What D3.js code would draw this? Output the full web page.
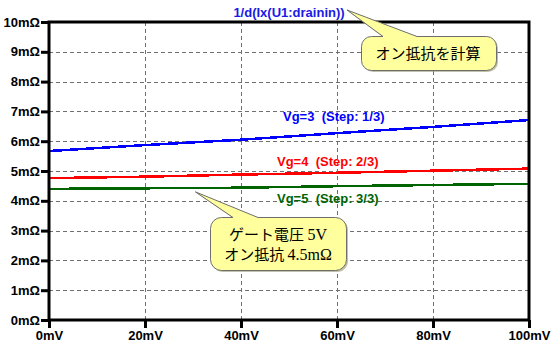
<!DOCTYPE html>
<html>
<head>
<meta charset="utf-8">
<script src="https://cdn.jsdelivr.net/npm/d3@7/dist/d3.min.js"></script>
<style>
  html, body { margin: 0; padding: 0; background: #fff; }
  svg { display: block; }
  .tick-label { font-family: Arial, "Liberation Sans", sans-serif; font-weight: bold; font-size: 13px; fill: #000; }
  .series-label { font-family: Arial, "Liberation Sans", sans-serif; font-weight: bold; font-size: 13px; white-space: pre; }
  .note { font-family: "Noto Sans CJK JP", sans-serif; font-size: 15px; fill: #000; }
  .note .latin { font-family: "Liberation Serif", "DejaVu Serif", serif; font-size: 16px; }
</style>
</head>
<body>
<svg id="chart" width="553" height="347"></svg>
<script>
// Drain voltage sweep (mV) and on-resistance per gate-voltage step (mΩ)
const vds = [0, 20, 40, 60, 80, 100];
const ronVg3 = [5.67, 5.87, 6.05, 6.27, 6.48, 6.71];
const ronVg4 = [4.76, 4.81, 4.88, 4.94, 5.01, 5.08];
const ronVg5 = [4.40, 4.42, 4.44, 4.49, 4.53, 4.57];

const xTicks = [0, 20, 40, 60, 80, 100];
const yTicks = [0, 1, 2, 3, 4, 5, 6, 7, 8, 9, 10];

const seriesNames = ["Vg=3  (Step: 1/3)", "Vg=4  (Step: 2/3)", "Vg=5  (Step: 3/3)"];
const seriesColors = ["#0000ff", "#ff0000", "#006400"];
const traceTitle = "1/d(Ix(U1:drainin))";

const svg = d3.select("#chart");
const plotL = 49, plotR = 529, plotT = 22, plotB = 320;

const x = d3.scaleLinear().domain([0, 100]).range([plotL, plotR]);
const y = d3.scaleLinear().domain([0, 10]).range([plotB, plotT]);

// dashed grid
const grid = svg.append("g");
grid.selectAll("line.gx").data(xTicks.slice(1, -1)).join("line")
  .attr("x1", d => x(d) + 0.5).attr("x2", d => x(d) + 0.5)
  .attr("y1", plotT).attr("y2", plotB)
  .attr("stroke", "#707070").attr("stroke-width", 1)
  .attr("stroke-dasharray", "4,3");
grid.selectAll("line.gy").data(yTicks.slice(1, -1)).join("line")
  .attr("x1", plotL).attr("x2", plotR)
  .attr("y1", d => Math.round(y(d)) + 0.5).attr("y2", d => Math.round(y(d)) + 0.5)
  .attr("stroke", "#707070").attr("stroke-width", 1)
  .attr("stroke-dasharray", "4,3");

// axes
const xAxis = d3.axisBottom(x).tickValues(xTicks).tickSize(8).tickPadding(3)
  .tickFormat(d => d + "mV");
const yAxis = d3.axisLeft(y).tickValues(yTicks).tickSize(8).tickPadding(1)
  .tickFormat(d => d + "mΩ");

const gx = svg.append("g").attr("transform", `translate(0,${plotB})`).call(xAxis);
const gy = svg.append("g").attr("transform", `translate(${plotL},0)`).call(yAxis);
[gx, gy].forEach(g => {
  g.select(".domain").remove();
  g.selectAll(".tick line").attr("stroke", "#000").attr("stroke-width", 3);
  g.selectAll(".tick text").attr("class", "tick-label").attr("fill", "#000");
});

// traces
const line = d3.line().x((d, i) => x(vds[i])).y(d => y(d));
const series = [ronVg3, ronVg4, ronVg5];
svg.append("g").selectAll("path").data(series).join("path")
  .attr("d", d => line(d))
  .attr("fill", "none")
  .attr("stroke", (d, i) => seriesColors[i])
  .attr("stroke-width", 2.5)
  .attr("shape-rendering", "crispEdges");

// frame
svg.append("rect")
  .attr("x", plotL).attr("y", plotT)
  .attr("width", plotR - plotL).attr("height", plotB - plotT)
  .attr("fill", "none").attr("stroke", "#000").attr("stroke-width", 3);

// step labels
const labelPos = [[283, 121], [277, 166], [277, 203]];
svg.append("g").selectAll("text").data(seriesNames).join("text")
  .attr("class", "series-label")
  .attr("x", (d, i) => labelPos[i][0])
  .attr("y", (d, i) => labelPos[i][1])
  .attr("fill", (d, i) => seriesColors[i])
  .text(d => d);

// trace expression
svg.append("text")
  .attr("class", "series-label")
  .attr("x", (plotL + plotR) / 2).attr("y", 17)
  .attr("text-anchor", "middle")
  .attr("fill", "#1a1ae6")
  .text(traceTitle);

// speech-bubble callout: rounded box with a pointer from the top edge
function callout(bx, by, bw, bh, r, b1, b2, tip) {
  const p = d3.path();
  p.moveTo(bx + r, by);
  p.lineTo(b1, by);
  p.lineTo(tip[0], tip[1]);
  p.lineTo(b2, by);
  p.lineTo(bx + bw - r, by);
  p.arcTo(bx + bw, by, bx + bw, by + r, r);
  p.lineTo(bx + bw, by + bh - r);
  p.arcTo(bx + bw, by + bh, bx + bw - r, by + bh, r);
  p.lineTo(bx + r, by + bh);
  p.arcTo(bx, by + bh, bx, by + bh - r, r);
  p.lineTo(bx, by + r);
  p.arcTo(bx, by, bx + r, by, r);
  p.closePath();
  const g = svg.append("g");
  g.append("path").attr("d", p.toString())
    .attr("transform", "translate(1.5,1.5)")
    .attr("fill", "#9a9a70").attr("opacity", 0.6);
  g.append("path").attr("d", p.toString())
    .attr("fill", "#ffff9e").attr("stroke", "#6e6e6e").attr("stroke-width", 1);
  return g;
}

// note at the trace expression
const n1 = callout(361.5, 36.5, 135, 34, 10, 383, 417, [347, 10]);
n1.append("text").attr("class", "note")
  .attr("x", 428).attr("y", 59)
  .attr("text-anchor", "middle")
  .text("オン抵抗を計算");

// note on the Vg=5 trace
const n2 = callout(210.5, 217.5, 136, 53, 11, 233, 258, [x(30.5), y(4.3)]);
const t1 = n2.append("text").attr("class", "note").attr("x", 278).attr("y", 240).attr("text-anchor", "middle");
t1.append("tspan").text("ゲート電圧 ");
t1.append("tspan").attr("class", "latin").text("5V");
const t2 = n2.append("text").attr("class", "note").attr("x", 278).attr("y", 259.5).attr("text-anchor", "middle");
t2.append("tspan").text("オン抵抗 ");
t2.append("tspan").attr("class", "latin").text("4.5mΩ");
</script>
</body>
</html>
